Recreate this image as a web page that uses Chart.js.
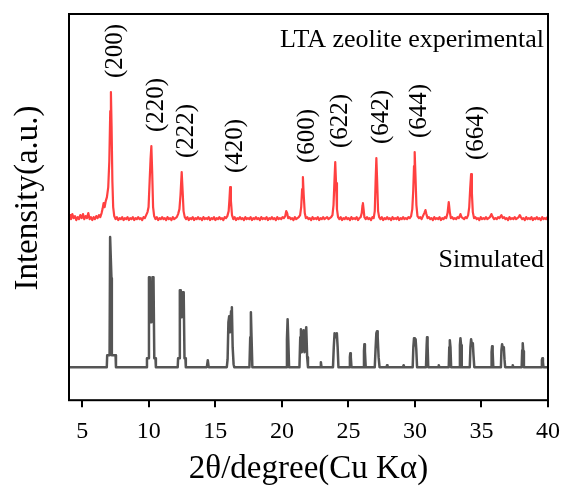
<!DOCTYPE html>
<html>
<head>
<meta charset="utf-8">
<script src="https://cdn.jsdelivr.net/npm/chart.js@4"></script>
<style>
  html, body { margin: 0; padding: 0; background: #fff; }
  #wrap { width: 565px; height: 492px; }
</style>
</head>
<body>
<div id="wrap"><canvas id="xrd"></canvas></div>
<script>
/* LTA zeolite XRD — experimental vs simulated pattern */

// x-axis tick values (2θ)
const tickValues = [5, 10, 15, 20, 25, 30, 35, 40];

// experimental pattern, [2θ, intensity above baseline]
const experimental = [
  [4.0,3],[4.1,6],[4.15,2],[4.25,7],[4.35,3],[4.45,5],[4.55,1],[4.65,4],[4.75,2],[4.85,6],
  [4.95,3],[5.05,7],[5.15,2],[5.25,5],[5.35,3],[5.45,8],[5.55,2],[5.65,4],[5.75,1],[5.85,4],
  [5.95,2],[6.05,5],[6.15,3],[6.25,6],[6.35,4],[6.45,8],[6.52,12],[6.6,18],[6.68,14],[6.76,20],
  [6.85,24],[6.95,34],[7.03,60],[7.1,110],[7.15,129],[7.2,95],[7.26,40],[7.32,14],[7.4,5],[7.5,2],
  [7.6,4],[7.7,1],[7.8,3],[7.9,2],[8.0,4],[8.1,1],[8.2,3],[8.3,2],[8.4,4],[8.5,1],
  [8.6,3],[8.7,2],[8.8,4],[8.9,1],[9.0,3],[9.1,2],[9.2,4],[9.3,2],[9.4,3],[9.5,1],
  [9.6,4],[9.7,3],[9.8,6],[9.9,9],[9.98,14],[10.06,40],[10.13,62],[10.19,75],[10.25,50],[10.32,14],
  [10.4,5],[10.5,2],[10.6,4],[10.7,1],[10.8,3],[10.9,2],[11.0,4],[11.1,2],[11.2,3],[11.3,1],
  [11.4,4],[11.5,2],[11.6,3],[11.7,1],[11.8,4],[11.9,2],[12.0,3],[12.1,4],[12.2,7],[12.3,12],
  [12.38,26],[12.47,49],[12.54,30],[12.61,10],[12.7,4],[12.8,2],[12.9,4],[13.0,1],[13.1,3],[13.2,2],
  [13.3,4],[13.4,1],[13.5,3],[13.6,2],[13.7,4],[13.8,2],[13.9,3],[14.0,1],[14.1,4],[14.2,2],
  [14.3,3],[14.4,2],[14.5,4],[14.6,1],[14.7,3],[14.8,2],[14.9,4],[15.0,1],[15.1,3],[15.2,2],
  [15.3,4],[15.4,2],[15.5,3],[15.6,1],[15.7,4],[15.8,3],[15.9,5],[16.0,10],[16.06,22],[16.11,34],
  [16.17,20],[16.25,6],[16.35,2],[16.45,4],[16.55,1],[16.65,3],[16.75,2],[16.85,4],[16.95,2],[17.05,3],
  [17.15,1],[17.25,4],[17.35,2],[17.45,3],[17.55,2],[17.65,4],[17.75,1],[17.85,3],[17.95,2],[18.05,4],
  [18.15,2],[18.25,3],[18.35,1],[18.45,4],[18.55,2],[18.65,3],[18.75,2],[18.85,4],[18.95,1],[19.05,3],
  [19.15,2],[19.25,4],[19.35,2],[19.45,3],[19.55,1],[19.65,4],[19.75,2],[19.85,3],[19.95,2],[20.05,4],
  [20.15,3],[20.25,5],[20.33,10],[20.4,8],[20.47,3],[20.57,4],[20.67,2],[20.77,3],[20.87,1],[20.97,4],
  [21.07,2],[21.17,3],[21.27,4],[21.37,6],[21.45,14],[21.52,32],[21.58,44],[21.64,26],[21.72,8],[21.8,3],
  [21.9,4],[22.0,2],[22.1,3],[22.2,1],[22.3,4],[22.4,2],[22.5,3],[22.6,2],[22.7,4],[22.8,1],
  [22.9,3],[23.0,2],[23.1,4],[23.2,2],[23.3,3],[23.4,4],[23.5,2],[23.6,3],[23.7,4],[23.8,6],
  [23.88,16],[23.95,40],[24.01,59],[24.07,38],[24.14,12],[24.22,4],[24.32,2],[24.42,4],[24.52,1],[24.62,3],
  [24.72,2],[24.82,4],[24.92,2],[25.02,3],[25.12,1],[25.22,4],[25.32,2],[25.42,3],[25.52,2],[25.62,4],
  [25.72,1],[25.82,3],[25.92,4],[26.0,8],[26.06,16],[26.09,18],[26.14,12],[26.2,4],[26.3,2],[26.4,4],
  [26.5,2],[26.6,3],[26.7,1],[26.8,4],[26.9,3],[26.98,10],[27.04,38],[27.1,63],[27.16,40],[27.23,10],
  [27.31,4],[27.41,2],[27.51,4],[27.61,1],[27.71,3],[27.81,2],[27.91,4],[28.01,2],[28.11,3],[28.21,1],
  [28.31,4],[28.41,2],[28.51,3],[28.61,2],[28.71,4],[28.81,1],[28.91,3],[29.01,2],[29.11,4],[29.21,2],
  [29.31,3],[29.41,2],[29.51,4],[29.61,3],[29.71,5],[29.8,12],[29.87,30],[29.93,55],[29.98,69],[30.04,45],
  [30.11,16],[30.19,5],[30.3,3],[30.4,4],[30.5,2],[30.6,5],[30.7,8],[30.79,11],[30.86,7],[30.95,3],
  [31.05,4],[31.15,2],[31.25,3],[31.35,1],[31.45,4],[31.55,2],[31.65,3],[31.75,2],[31.85,4],[31.95,1],
  [32.05,3],[32.15,2],[32.25,4],[32.35,3],[32.45,8],[32.54,19],[32.62,9],[32.7,3],[32.8,4],[32.9,2],
  [33.0,3],[33.1,2],[33.2,4],[33.3,3],[33.42,7],[33.5,4],[33.6,3],[33.7,2],[33.8,4],[33.9,3],
  [34.0,6],[34.08,14],[34.15,32],[34.22,47],[34.28,28],[34.35,9],[34.44,3],[34.54,4],[34.64,2],[34.74,3],
  [34.84,1],[34.94,4],[35.04,2],[35.14,3],[35.24,2],[35.34,4],[35.44,2],[35.54,3],[35.64,4],[35.75,7],
  [35.85,4],[35.95,2],[36.05,3],[36.15,2],[36.25,4],[36.35,3],[36.5,6],[36.6,3],[36.7,4],[36.8,2],
  [36.9,3],[37.0,1],[37.1,4],[37.2,2],[37.3,3],[37.4,2],[37.5,4],[37.6,2],[37.7,3],[37.8,4],
  [37.88,6],[37.96,4],[38.06,2],[38.16,3],[38.26,1],[38.36,4],[38.46,2],[38.56,3],[38.66,2],[38.76,4],
  [38.86,1],[38.96,3],[39.06,2],[39.16,4],[39.26,2],[39.36,3],[39.46,1],[39.56,4],[39.66,2],[39.76,3],
  [39.86,2],[39.96,4],[40.0,3]
];

// simulated pattern, [2θ, intensity above baseline]
const simulated = [
  [4.0,0],[6.84,0],[6.87,12],[7.05,12],[7.09,130],[7.14,130],[7.19,89],[7.22,12],[7.5,12],[7.53,0],
  [9.82,0],[9.86,9],[9.96,9],[10.01,90],[10.07,90],[10.13,45],[10.2,45],[10.27,90],[10.35,90],[10.41,9],[10.5,9],[10.53,0],
  [12.17,0],[12.2,9],[12.28,9],[12.33,77],[12.4,77],[12.47,50],[12.55,75],[12.62,75],[12.68,9],[12.75,9],[12.78,0],
  [14.36,0],[14.43,7],[14.5,0],
  [15.86,0],[15.92,8],[15.98,45],[16.04,51],[16.1,35],[16.18,56],[16.24,60],[16.3,20],[16.37,3],[16.42,0],
  [17.56,0],[17.62,30],[17.67,55],[17.72,30],[17.78,0],
  [20.32,0],[20.38,28],[20.43,48],[20.48,28],[20.54,0],
  [21.32,0],[21.38,30],[21.43,38],[21.5,15],[21.58,30],[21.63,37],[21.7,15],[21.78,32],[21.83,40],[21.9,10],[21.96,0],
  [22.88,0],[22.93,5],[22.98,0],
  [23.84,0],[23.9,20],[23.96,34],[24.04,30],[24.13,34],[24.19,20],[24.25,0],
  [25.06,0],[25.11,10],[25.14,14],[25.18,10],[25.23,0],
  [26.12,0],[26.17,16],[26.2,23],[26.24,16],[26.3,0],
  [26.98,0],[27.04,18],[27.1,34],[27.15,36],[27.2,30],[27.27,10],[27.34,0],
  [27.87,0],[27.9,2],[27.94,0],
  [29.1,0],[29.15,2],[29.2,0],
  [29.83,0],[29.88,20],[29.93,29],[29.99,22],[30.05,28],[30.1,18],[30.16,0],
  [30.83,0],[30.88,22],[30.91,30],[30.95,22],[31.0,0],
  [31.75,0],[31.79,2],[31.83,0],
  [32.54,0],[32.58,20],[32.62,27],[32.67,20],[32.72,0],
  [33.34,0],[33.38,22],[33.42,29],[33.47,22],[33.52,0],
  [34.12,0],[34.17,20],[34.22,28],[34.29,22],[34.35,24],[34.4,12],[34.46,0],
  [35.72,0],[35.76,15],[35.8,21],[35.84,15],[35.89,0],
  [36.46,0],[36.5,17],[36.55,23],[36.62,18],[36.68,20],[36.73,8],[36.78,0],
  [37.31,0],[37.35,2],[37.39,0],
  [38.02,0],[38.06,17],[38.1,24],[38.14,16],[38.19,0],
  [39.5,0],[39.54,7],[39.58,9],[39.62,5],[39.66,0],
  [40.0,0]
];

// vertical stacking offsets
const expOffset = 179;
const simOffset = 33;

// Miller indices of the labelled experimental reflections
const hklLabels = ["(200)", "(220)", "(222)", "(420)", "(600)", "(622)", "(642)", "(644)", "(664)"];
const hklTheta  = [7.15, 10.19, 12.47, 16.11, 21.58, 24.01, 27.1, 29.98, 34.22];

const COLORS = {
  exp:  "#ff4040",
  sim:  "#555555",
  text: "#000000",
};
const FONT = "'Liberation Serif', 'Times New Roman', serif";

function toPoints(arr, offset) {
  return arr.map(([x, y]) => ({ x, y: y + offset }));
}

function peakTop(theta) {
  // highest experimental value within ±0.1° of theta
  let best = 0;
  experimental.forEach(([x, y]) => { if (Math.abs(x - theta) <= 0.1 && y > best) best = y; });
  return best + expOffset;
}

const annotations = {
  id: "annotations",
  afterDraw(chart) {
    const { ctx, chartArea: a, scales: { x, y } } = chart;
    ctx.save();
    // frame
    ctx.strokeStyle = "#000";
    ctx.lineWidth = 2;
    ctx.strokeRect(a.left, a.top, a.right - a.left, a.bottom - a.top);

    ctx.fillStyle = COLORS.text;

    // y title
    ctx.save();
    ctx.font = "33px " + FONT;
    ctx.translate(a.left - 41, 198);
    ctx.rotate(-Math.PI / 2);
    ctx.textAlign = "center";
    ctx.textBaseline = "middle";
    ctx.fillText("Intensity(a.u.)", 0, 0);
    ctx.restore();

    // series names
    ctx.font = "26px " + FONT;
    ctx.textAlign = "right";
    ctx.textBaseline = "alphabetic";
    ctx.fillText("LTA zeolite experimental", a.right - 4, y.getPixelForValue(353));
    ctx.fillText("Simulated", a.right - 4, y.getPixelForValue(133));

    // hkl labels
    ctx.font = "25px " + FONT;
    hklLabels.forEach((lab, i) => {
      const px = x.getPixelForValue(hklTheta[i]) + 5;
      const py = y.getPixelForValue(peakTop(hklTheta[i])) - 14;
      ctx.save();
      ctx.translate(px, py);
      ctx.rotate(-Math.PI / 2);
      ctx.textAlign = "left";
      ctx.textBaseline = "middle";
      ctx.fillText(lab, 0, 0);
      ctx.restore();
    });
    ctx.restore();
  },
};

new Chart(document.getElementById("xrd"), {
  type: "line",
  data: {
    datasets: [
      { label: "Simulated", data: toPoints(simulated, simOffset), borderColor: COLORS.sim, borderWidth: 2.5, borderJoinStyle: "round" },
      { label: "LTA zeolite experimental", data: toPoints(experimental, expOffset), borderColor: COLORS.exp, borderWidth: 2.2, borderJoinStyle: "round" },
    ],
  },
  options: {
    responsive: true,
    maintainAspectRatio: false,
    animation: false,
    devicePixelRatio: 1,
    elements: { point: { radius: 0 }, line: { tension: 0 } },
    layout: { padding: { left: 69, right: 17, top: 14, bottom: 6 } },
    plugins: { legend: { display: false }, tooltip: { enabled: false } },
    scales: {
      x: {
        type: "linear",
        min: 4,
        max: 40,
        afterBuildTicks: (scale) => { scale.ticks = tickValues.map((v) => ({ value: v })); },
        afterFit: (scale) => { scale.paddingLeft = 0; scale.paddingRight = 0; },
        grid: { drawOnChartArea: false, drawTicks: true, tickLength: 7, color: "#000", lineWidth: 2 },
        border: { display: false },
        ticks: { color: COLORS.text, padding: 10, maxRotation: 0, font: { family: FONT, size: 24 } },
        title: {
          display: true,
          text: "2θ/degree(Cu Kα)",
          color: COLORS.text,
          padding: { top: -3, bottom: 0 },
          font: { family: FONT, size: 33, lineHeight: 1.0 },
        },
      },
      y: { display: false, min: 0, max: 386 },
    },
  },
  plugins: [annotations],
});
</script>
</body>
</html>
